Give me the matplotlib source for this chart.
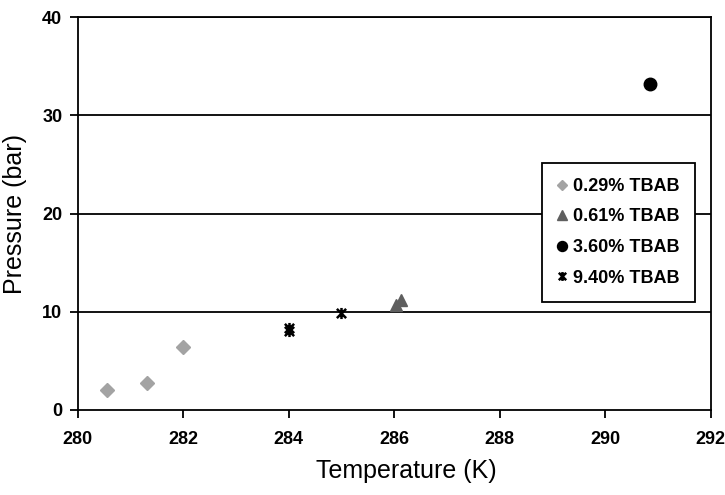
import numpy as np
import matplotlib.pyplot as plt
from matplotlib.path import Path

plt.rcParams['font.family'] = ['Liberation Sans', 'DejaVu Sans']

# data
t_029 = [280.56, 281.32, 282.0]
p_029 = [2.0, 2.75, 6.4]
t_061 = [286.04, 286.13]
p_061 = [10.7, 11.2]
t_360 = [290.85]
p_360 = [33.2]
t_940 = [284.0, 284.0, 285.0]
p_940 = [8.0, 8.3, 9.9]

labels = ['0.29% TBAB', '0.61% TBAB', '3.60% TBAB', '9.40% TBAB']
xticks = np.arange(280, 293, 2)
yticks = np.arange(0, 41, 10)

# excel-like star: an x with a vertical bar
star = Path([(-1, -1), (1, 1), (-1, 1), (1, -1), (0, -1.2), (0, 1.2)],
            [Path.MOVETO, Path.LINETO, Path.MOVETO, Path.LINETO,
             Path.MOVETO, Path.LINETO])

fig = plt.figure(figsize=(7.25, 4.95), dpi=100)
ax = fig.add_axes([0.107, 0.172, 0.873, 0.793])

for y in yticks[1:]:
    ax.axhline(y, color='black', lw=1.3, zorder=1)

ax.plot(t_029, p_029, ls='none', marker='D', ms=7, color='#a3a3a3',
        mec='#a3a3a3', label=labels[0], zorder=3)
ax.plot(t_061, p_061, ls='none', marker='^', ms=9, color='#5f5f5f',
        mec='#5f5f5f', label=labels[1], zorder=3)
ax.plot(t_360, p_360, ls='none', marker='o', ms=9, color='black',
        label=labels[2], zorder=3)
ax.plot(t_940, p_940, ls='none', marker=star, ms=8, mew=1.8,
        color='black', label=labels[3], zorder=3)

ax.set_xlim(280, 292)
ax.set_ylim(0, 40)
ax.set_xticks(xticks)
ax.set_yticks(yticks)
for s in ax.spines.values():
    s.set_linewidth(1.3)
ax.tick_params(axis='x', direction='out', length=6, width=1.3, pad=9,
               labelsize=13)
ax.tick_params(axis='y', direction='out', length=6, width=1.3, pad=5,
               labelsize=13)
for lab in ax.get_xticklabels() + ax.get_yticklabels():
    lab.set_fontweight('bold')

ax.set_xlabel('Temperature (K)', fontsize=18)
ax.set_ylabel('Pressure (bar)', fontsize=18)
ax.xaxis.set_label_coords(0.52, -0.125)
ax.yaxis.set_label_coords(-0.08, 0.5)

leg = ax.legend(loc='center', bbox_to_anchor=(0.855, 0.4525),
                frameon=True, fancybox=False, handlelength=0.5,
                handletextpad=0.35, labelspacing=0.75, borderpad=0.85,
                markerscale=0.8, prop={'weight': 'bold', 'size': 13})
leg.get_frame().set_edgecolor('black')
leg.get_frame().set_linewidth(1.3)
leg.get_frame().set_alpha(1)

fig.savefig('out.png', dpi=100)
